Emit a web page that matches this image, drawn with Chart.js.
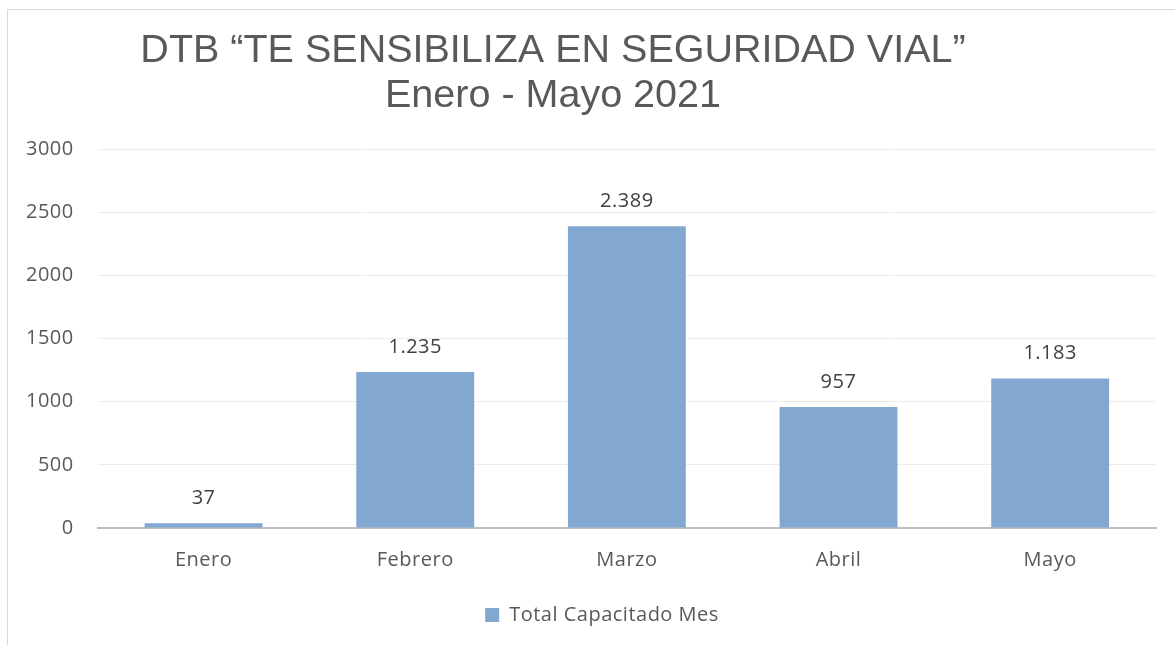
<!DOCTYPE html>
<html lang="es">
<head>
<meta charset="UTF-8">
<title>DTB Te sensibiliza en seguridad vial</title>
<script src="https://cdn.jsdelivr.net/npm/chart.js@4.4.0/dist/chart.umd.min.js"></script>
<style>
  body { margin: 0; background: #fff; overflow: hidden; }
  #marco { position: absolute; left: 7px; top: 9px; width: 1300px; height: 800px; border: 1px solid #d9d9d9; }
  #grafico { position: absolute; left: 0; top: 0; }
</style>
</head>
<body>
<div id="marco"></div>
<canvas id="grafico" width="1175" height="645"></canvas>
<script>
const meses = ['Enero', 'Febrero', 'Marzo', 'Abril', 'Mayo'];
const capacitados = [37, 1235, 2389, 957, 1183];
const titulo = ['DTB \u201CTE SENSIBILIZA EN SEGURIDAD VIAL\u201D', 'Enero - Mayo 2021'];
const nombreSerie = 'Total Capacitado Mes';

const fuente = '"Open Sans", "Noto Sans", sans-serif';

function miles(v) {
  return v.toString().replace(/\B(?=(\d{3})+(?!\d))/g, '.');
}

// un poco de espacio entre letras, como el texto de Excel
const espaciado = {
  id: 'espaciado',
  beforeDraw(chart) {
    chart.ctx.letterSpacing = '0.5px';
  },
  afterLayout(chart) {
    // la leyenda del original queda algo a la derecha
    chart.legend.left += 17;
    chart.legend.right += 17;
  }
};

// titulo centrado un poco a la izquierda, como en el original
const tituloPlugin = {
  id: 'tituloDTB',
  afterDraw(chart) {
    const ctx = chart.ctx;
    ctx.save();
    ctx.letterSpacing = '0px';
    ctx.fillStyle = '#595959';
    ctx.font = '39.5px "Liberation Sans", Arial, sans-serif';
    ctx.textAlign = 'center';
    ctx.textBaseline = 'alphabetic';
    ctx.fillText(titulo[0], 553, 62);
    ctx.fillText(titulo[1], 553, 107);
    ctx.restore();
  }
};

// etiquetas de valor encima de cada barra
const etiquetas = {
  id: 'etiquetas',
  afterDatasetsDraw(chart) {
    const ctx = chart.ctx;
    const meta = chart.getDatasetMeta(0);
    ctx.save();
    ctx.fillStyle = '#404040';
    ctx.font = '20px ' + fuente;
    ctx.textAlign = 'center';
    ctx.textBaseline = 'bottom';
    meta.data.forEach((bar, i) => {
      ctx.fillText(miles(capacitados[i]), bar.x, bar.y - 15);
    });
    ctx.restore();
  }
};

const ctx = document.getElementById('grafico').getContext('2d');
new Chart(ctx, {
  type: 'bar',
  data: {
    labels: meses,
    datasets: [{
      label: nombreSerie,
      data: capacitados,
      backgroundColor: '#82a7d0',
      borderWidth: 0,
      barPercentage: 0.557,
      categoryPercentage: 1
    }]
  },
  options: {
    responsive: false,
    animation: false,
    layout: { padding: { top: 149, left: 4, right: 19, bottom: 10 } },
    scales: {
      x: {
        grid: { display: false },
        border: { color: '#bfbfbf', width: 2 },
        ticks: { color: '#595959', font: { family: fuente, size: 20 }, padding: 12 }
      },
      y: {
        min: 0,
        max: 3000,
        ticks: {
          stepSize: 500,
          color: '#595959',
          font: { family: fuente, size: 20 },
          padding: 24,
          callback: v => String(v)
        },
        grid: { color: '#ececec', lineWidth: 1, drawTicks: false },
        border: { display: false }
      }
    },
    plugins: {
      title: { display: false },
      tooltip: { enabled: false },
      legend: {
        position: 'bottom',
        labels: {
          color: '#595959',
          font: { family: fuente, size: 20 },
          boxWidth: 14,
          boxHeight: 14,
          padding: 21
        }
      }
    }
  },
  plugins: [espaciado, tituloPlugin, etiquetas]
});
</script>
</body>
</html>
